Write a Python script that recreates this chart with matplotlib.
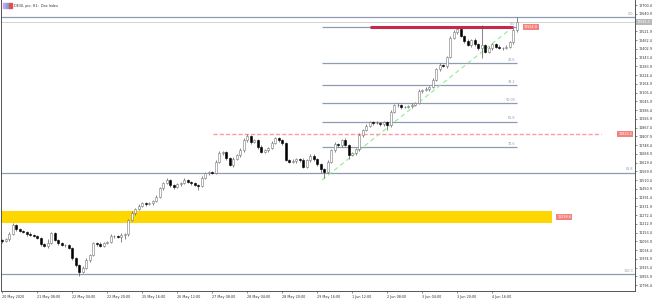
import numpy as np
import matplotlib.pyplot as plt
import matplotlib.transforms as mtransforms
from matplotlib.patches import Rectangle

# DE30 H1 closes (one value per 2-bar step)
closes = [11096, 11109, 11143, 11204, 11177, 11164, 11157, 11143, 11136, 11130,
          11116, 11075, 11062, 11082, 11150, 11102, 11082, 11068, 11068, 11048,
          10980, 10932, 10885, 10912, 10966, 11000, 11082, 11075, 11062, 11082,
          11089, 11130, 11130, 11123, 11136, 11143, 11238, 11286, 11313, 11334,
          11354, 11347, 11354, 11368, 11395, 11456, 11490, 11510, 11476, 11463,
          11483, 11490, 11510, 11497, 11490, 11476, 11470, 11524, 11558, 11565,
          11558, 11633, 11694, 11701, 11660, 11612, 11653, 11680, 11714, 11782,
          11810, 11769, 11782, 11735, 11701, 11714, 11728, 11762, 11796, 11782,
          11762, 11646, 11633, 11640, 11653, 11646, 11599, 11646, 11674, 11653,
          11619, 11585, 11565, 11633, 11714, 11755, 11748, 11782, 11748, 11680,
          11694, 11721, 11816, 11850, 11878, 11905, 11898, 11898, 11891, 11905,
          11884, 11973, 12020, 12020, 12007, 12007, 12014, 12020, 12034, 12116,
          12122, 12129, 12143, 12190, 12265, 12292, 12286, 12347, 12476, 12517,
          12537, 12490, 12456, 12428, 12462, 12435, 12408, 12428, 12381, 12408,
          12435, 12415, 12408, 12408, 12415, 12449, 12530, 12585]
upper_wick = [10, 8, 12, 15, 6, 10, 8, 9, 12, 7,
              8, 6, 10, 30, 8, 10, 7, 9, 6, 8,
              6, 8, 10, 12, 15, 10, 9, 8, 12, 7,
              8, 10, 7, 9, 11, 8, 10, 12, 9, 11,
              9, 7, 10, 8, 12, 10, 9, 14, 8, 7,
              8, 10, 12, 9, 7, 10, 8, 11, 9, 10,
              10, 12, 15, 9, 8, 10, 11, 9, 12, 14,
              12, 9, 10, 8, 11, 10, 9, 12, 10, 9,
              8, 10, 9, 11, 10, 8, 12, 9, 10, 11,
              9, 10, 8, 12, 10, 11, 9, 10, 12, 8,
              10, 9, 11, 8, 12, 10, 9, 11, 10, 8,
              9, 11, 10, 12, 8, 10, 9, 11, 10, 12,
              10, 11, 9, 12, 10, 14, 9, 10, 12, 11,
              14, 10, 9, 12, 10, 11, 9, 135, 10, 12,
              10, 9, 11, 10, 12, 9, 12, 35]
lower_wick = [12, 9, 10, 8, 11, 7, 10, 12, 8, 9,
              10, 15, 9, 12, 10, 7, 11, 9, 13, 10,
              14, 12, 27, 10, 9, 11, 8, 12, 10, 9,
              10, 9, 12, 8, 35, 30, 10, 9, 11, 8,
              10, 12, 8, 11, 9, 10, 12, 9, 10, 11,
              9, 11, 8, 10, 12, 9, 30, 10, 8, 11,
              9, 10, 8, 12, 11, 9, 10, 8, 11, 10,
              10, 11, 9, 12, 8, 10, 11, 9, 10, 12,
              12, 9, 10, 8, 11, 14, 10, 9, 12, 10,
              11, 30, 40, 10, 9, 12, 10, 11, 9, 25,
              9, 12, 10, 11, 8, 10, 12, 9, 11, 10,
              35, 10, 9, 11, 12, 10, 9, 11, 8, 10,
              11, 9, 12, 10, 9, 11, 10, 12, 9, 10,
              12, 10, 11, 9, 12, 10, 11, 68, 10, 9,
              11, 10, 9, 12, 10, 9, 11, 10]
first_open = 11100

price_ticks = [10796.4, 10855.9, 10915.4, 10974.9, 11034.4, 11093.9, 11153.4,
               11212.9, 11272.4, 11331.9, 11391.4, 11450.9, 11510.4, 11569.9,
               11629.4, 11688.9, 11748.4, 11807.9, 11867.4, 11926.9, 11986.4,
               12045.9, 12105.4, 12164.9, 12224.4, 12283.9, 12343.4, 12402.9,
               12462.4, 12521.9, 12581.4, 12640.9, 12700.4]
time_labels = ['20 May 2020', '21 May 08:00', '22 May 04:00', '22 May 20:00',
               '25 May 16:00', '26 May 12:00', '27 May 08:00', '28 May 04:00',
               '28 May 20:00', '29 May 16:00', '1 Jun 12:00', '2 Jun 08:00',
               '3 Jun 04:00', '3 Jun 20:00', '4 Jun 16:00']
label_every = 10

# big fibo (whole chart) and small fibo (last leg)
big_fib_prices = [12620, 11561, 10871]
big_fib_names = ['0.0', '61.8', '100.0']
small_fib_low, small_fib_high = 11510, 12552
small_fib_ratios = [0.0, 23.6, 38.2, 50.0, 61.8, 78.6]
small_fib_names = ['0.0', '23.6', '38.2', '50.00', '61.8', '78.6']
small_fib_span = (91.4, 147.0)
trend_start = (91.4, 11510)
trend_end = (146.0, 12552)

resistance = 12554.0
resistance_span = (105.2, 146.0)
dash_level = 11823.2
dash_span = (60.3, 171.0)
zone_low, zone_high = 11218.0, 11299.6
zone_end = 157.1

opens = [first_open] + closes[:-1]
highs = [max(o, c) + w for o, c, w in zip(opens, closes, upper_wick)]
lows = [min(o, c) - w for o, c, w in zip(opens, closes, lower_wick)]
idx = np.arange(len(closes))
last = closes[-1]

fs = 2.4
fig = plt.figure(figsize=(6.53, 3.02), dpi=100)
ax = fig.add_axes([1 / 653, 11 / 302, 634 / 653, 291 / 302])
ax.set_xlim(-0.3, 180.8)
ax.set_ylim(10755.6, 12734.4)

# gold zone
ax.add_patch(Rectangle((-0.3, zone_low), zone_end + 0.3, zone_high - zone_low,
                       color='#ffd700', zorder=1, lw=0))

fib_col = '#8e9bb0'
for p, name in zip(big_fib_prices, big_fib_names):
    ax.axhline(p, color=fib_col, lw=0.9, zorder=2)
    ax.text(180.2, p + 8, name, fontsize=fs, color='#8e9bb0', ha='right', va='bottom')

# current price line
ax.axhline(last, color='#d3d3d3', lw=0.7, zorder=2)

for r, name in zip(small_fib_ratios, small_fib_names):
    p = small_fib_high - r / 100 * (small_fib_high - small_fib_low)
    ax.hlines(p, small_fib_span[0], small_fib_span[1], color=fib_col, lw=0.9, zorder=2)
    ax.text(small_fib_span[1] - 0.5, p + 8, name, fontsize=fs, color='#8e9bb0',
            ha='right', va='bottom')

ax.plot([trend_start[0], trend_end[0]], [trend_start[1], trend_end[1]],
        color='#90ee90', lw=0.8, ls=(0, (4, 3)), zorder=3)

ax.hlines(dash_level, dash_span[0], dash_span[1], color='#ff9aa2', lw=1.0,
          ls=(0, (3, 1.5)), zorder=2)
ax.hlines(resistance, resistance_span[0], resistance_span[1], color='#c8284a',
          lw=2.2, zorder=4)

# candles
up = np.array(closes) >= np.array(opens)
ax.vlines(idx, lows, highs, color='#555555', lw=0.5, zorder=5)
body_lo = np.minimum(opens, closes)
body_h = np.maximum(np.abs(np.array(closes) - np.array(opens)), 2)
ax.bar(idx[up], body_h[up], bottom=body_lo[up], width=0.55, color='white',
       edgecolor='#777777', lw=0.4, zorder=6)
ax.bar(idx[~up], body_h[~up], bottom=body_lo[~up], width=0.55, color='black',
       edgecolor='black', lw=0.4, zorder=6)

# axes styling
ax.spines['top'].set_visible(False)
for s in ['left', 'right', 'bottom']:
    ax.spines[s].set_color('#555555')
    ax.spines[s].set_linewidth(0.7)
ax.yaxis.tick_right()
ax.set_yticks(price_ticks)
ax.set_yticklabels([f'{p:.1f}' for p in price_ticks])
ax.tick_params(axis='y', labelsize=fs, length=1.5, width=0.4, pad=0.8,
               colors='#333333')
ax.set_xticks(idx[::label_every][:len(time_labels)])
ax.set_xticklabels(time_labels, ha='left')
ax.tick_params(axis='x', labelsize=fs, length=1.5, width=0.4, pad=1.5,
               colors='#333333')

trans = mtransforms.blended_transform_factory(ax.transAxes, ax.transData)
ax.text(1.003, last, f'{last:.1f}', transform=trans, fontsize=fs, color='white',
        va='center', ha='left', clip_on=False,
        bbox=dict(boxstyle='square,pad=0.25', fc='#b8b8b8', ec='none'))

def tag(x, y, s):
    ax.text(x, y, s, fontsize=fs, color='white', va='center', ha='left',
            zorder=7, bbox=dict(boxstyle='square,pad=0.3', fc='#f4837f', ec='none'))

tag(resistance_span[1] + 3, resistance, f'{resistance:.1f}')
tag(dash_span[1] + 5, dash_level, f'{dash_level:.1f}')
tag(zone_end + 1.5, (zone_low + zone_high) / 2, f'{zone_high:.1f}')

# header
for i, c in enumerate(['#c7a4e0', '#7da6e8', '#e05050']):
    fig.patches.append(Rectangle((3 / 653 + i * 3 / 653, 294 / 302), 2.7 / 653, 5 / 302,
                                 transform=fig.transFigure, color=c, figure=fig))
fig.text(14 / 653, 296.5 / 302, 'DE30, pro, H1:  Dax Index', fontsize=fs,
         color='#333333', va='center')

fig.savefig('out.png', dpi=100)
